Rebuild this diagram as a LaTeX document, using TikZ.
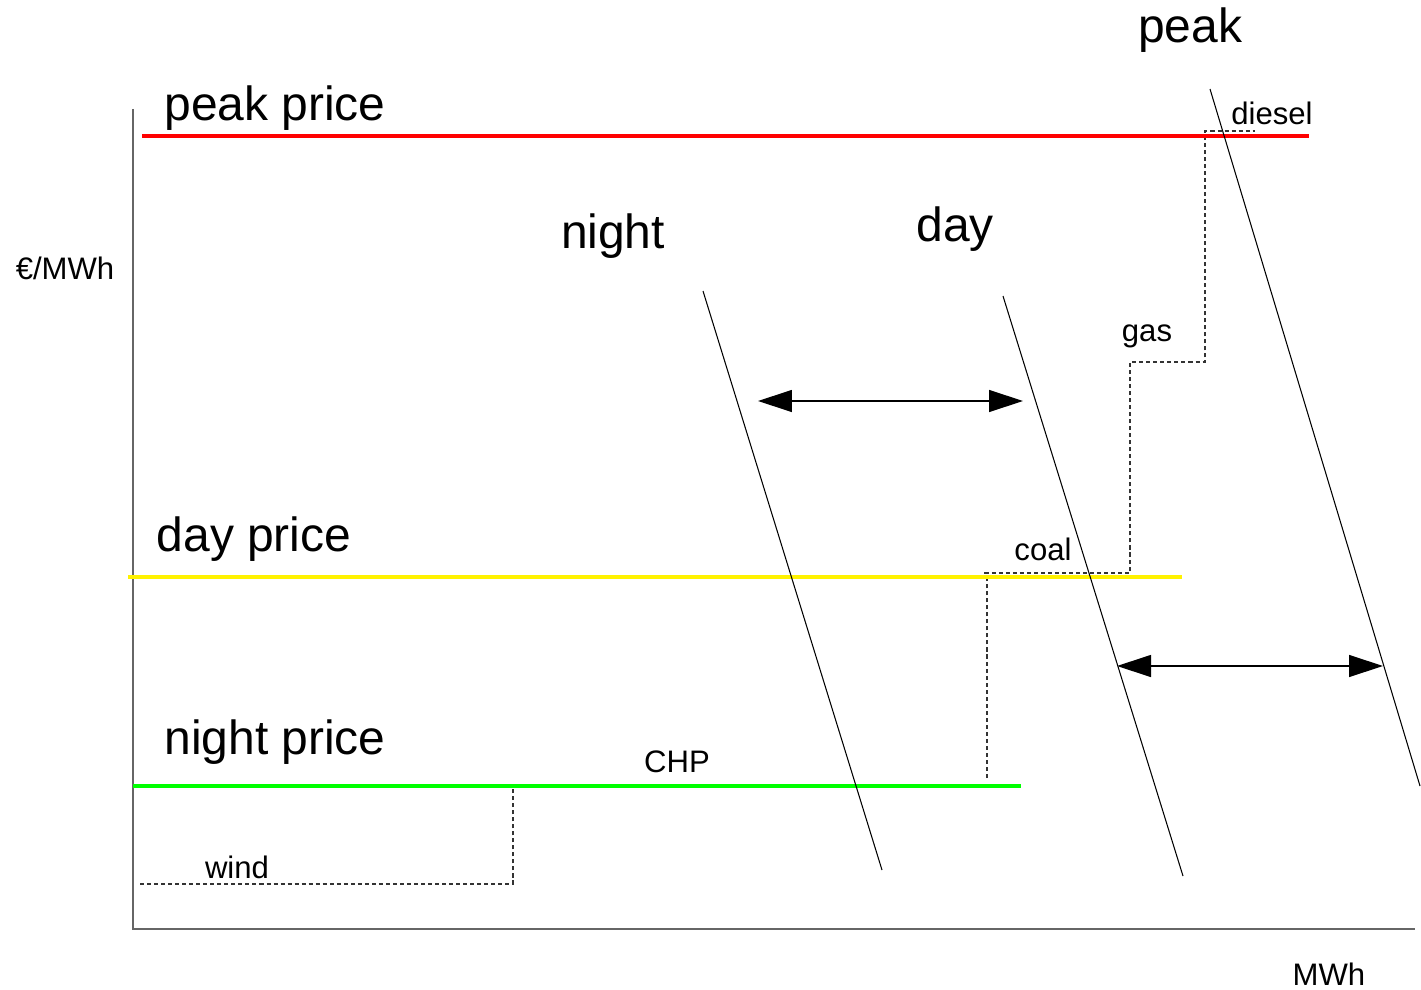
\documentclass[tikz,border=0pt]{standalone}
\usepackage{fontspec}
\setmainfont{Liberation Sans}
\usetikzlibrary{arrows.meta}

\begin{document}
\begin{tikzpicture}[
    x=0.02cm, y=-0.02cm,
    big/.style={inner sep=0pt, font=\fontsize{27.3}{32}\selectfont},
    small/.style={inner sep=0pt, font=\fontsize{17.7}{21}\selectfont},
    axis/.style={line width=0.7pt, draw=black!60},
    price/.style={line width=2.3pt},
    merit/.style={line width=0.6pt, draw=black!80, dash pattern=on 2.3pt off 1.7pt},
    demand/.style={line width=0.6pt},
    shiftarrow/.style={{Triangle[length=0.68cm, width=0.44cm]}-{Triangle[length=0.68cm, width=0.44cm]}, line width=0.7pt},
]
    \useasboundingbox (0,0) rectangle (1421,990);

    % axes
    \coordinate (ytop) at (133,109);
    \coordinate (orig) at (133,929);
    \coordinate (xend) at (1415,929);
    \draw[axis] (ytop) -- (orig) -- (xend);
    \node[small] (ylab) at (65,268) {€/MWh};
    \node[small] (xlab) at (1329,974) {MWh};

    % merit order steps
    \coordinate (wind0) at (140,884);
    \coordinate (wind1) at (513,788);
    \coordinate (chp1) at (987,778);
    \coordinate (coal0) at (983,573);
    \coordinate (coal1) at (1130,573);
    \coordinate (gas1) at (1205,362);
    \coordinate (diesel1) at (1255,131);
    \draw[merit] (wind0) -| (wind1);
    \draw[merit] (chp1) |- (coal0) -- (coal1) |- (gas1) |- (diesel1);

    % prices
    \draw[price, draw=red] (142,136) coordinate (pp0) -- (1309,136) coordinate (pp1);
    \draw[price, draw=yellow] (128,577) coordinate (dp0) -- (1182,577) coordinate (dp1);
    \draw[price, draw=green] (133,786) coordinate (np0) -- (1021,786) coordinate (np1);

    % demand curves
    \coordinate (night0) at (703,291);
    \coordinate (night1) at (882,870);
    \coordinate (day0) at (1003,296);
    \coordinate (day1) at (1183,876);
    \coordinate (peak0) at (1210,89);
    \coordinate (peak1) at (1420,786);
    \draw[demand] (night0) -- (night1);
    \draw[demand] (day0) -- (day1);
    \draw[demand] (peak0) -- (peak1);

    % shifts
    \coordinate (s1a) at (758,401);
    \coordinate (s1b) at (1023,401);
    \coordinate (s2a) at (1117,666);
    \coordinate (s2b) at (1383,666);
    \draw[shiftarrow] (s1a) -- (s1b);
    \draw[shiftarrow] (s2a) -- (s2b);

    % labels
    \node[big] (peaklab) at (1190,30) {peak};
    \node[big] (nightlab) at (613,236) {night};
    \node[big] (daylab) at (955,229) {day};
    \node[big] (pplab) at (275,108) {peak price};
    \node[big] (dplab) at (254,539) {day price};
    \node[big] (nplab) at (275,742) {night price};
    \node[small] (windlab) at (237,867) {wind};
    \node[small] (chplab) at (677,762) {CHP};
    \node[small] (coallab) at (1043,549) {coal};
    \node[small] (gaslab) at (1147,336) {gas};
    \node[small] (diesellab) at (1272,113) {diesel};
\end{tikzpicture}
\end{document}
